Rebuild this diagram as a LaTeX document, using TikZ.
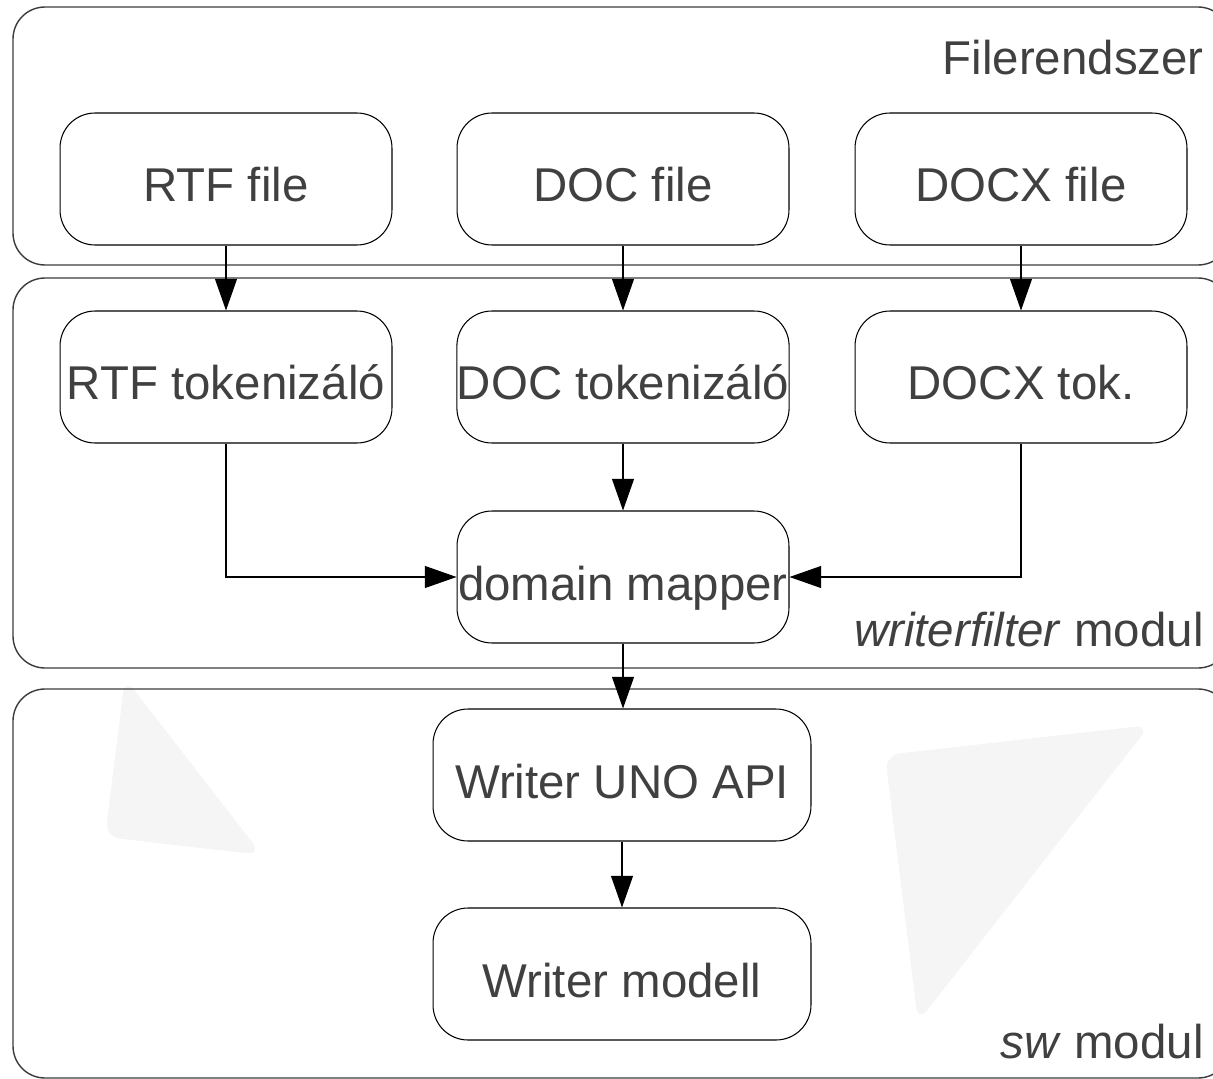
\documentclass[tikz,border=0pt]{standalone}
\usepackage{fontspec}
\setmainfont{Liberation Sans}
\usetikzlibrary{arrows.meta}
\definecolor{txtgray}{RGB}{64,64,64}
\definecolor{linegray}{RGB}{60,60,60}
\definecolor{bgtri}{RGB}{245,245,245}

\begin{document}
\begin{tikzpicture}[x=0.02cm,y=-0.02cm,
		box/.style={draw,rounded corners=0.7cm,minimum width=6.64cm,minimum height=2.64cm,
			inner sep=0pt,text height=0.92cm,text depth=0cm,text=txtgray,
			font=\fontsize{27}{32}\selectfont,line width=0.6pt},
		group/.style={draw=linegray,rounded corners=0.64cm,line width=0.8pt},
		modlabel/.style={anchor=base east,inner sep=0pt,text=txtgray,font=\fontsize{27}{32}\selectfont},
		flow/.style={-{Triangle[length=18pt,width=12.5pt]},line width=0.6pt}]
		\useasboundingbox (0,0) rectangle (1213,1078);
		\clip (0,0) rectangle (1213,1078);
		% faint background shapes
		\fill[bgtri,rounded corners=0.3cm] (125,678) -- (262,855) -- (105,837) -- cycle;
		\fill[bgtri,rounded corners=0.3cm] (885,755) -- (1150,725) -- (918,1022) -- cycle;
		% modules
		\draw[group] (13,7) rectangle (1230,265);
		\draw[group] (13,278) rectangle (1230,668);
		\draw[group] (13,689) rectangle (1230,1078);
		\node[modlabel] (fs) at (1204,74) {Filerendszer};
		\node[modlabel] (wf) at (1204,646) {\textit{writerfilter} modul};
		\node[modlabel] (sw) at (1204,1058) {\textit{sw} modul};
		% files
		\node[box] (rtf) at (226,179) {RTF file};
		\node[box] (doc) at (623,179) {DOC file};
		\node[box] (docx) at (1021,179) {DOCX file};
		% tokenizers
		\node[box] (rtftok) at (226,377) {RTF tokenizáló};
		\node[box] (doctok) at (623,377) {DOC tokenizáló};
		\node[box] (docxtok) at (1021,377) {DOCX tok.};
		\node[box] (dm) at (623,577) {domain mapper};
		% writer
		\node[box,minimum width=7.56cm] (api) at (622,775) {Writer UNO API};
		\node[box,minimum width=7.56cm] (model) at (622,974) {Writer modell};
		% arrows
		\draw[flow] (rtf) -- (rtftok);
		\draw[flow] (doc) -- (doctok);
		\draw[flow] (docx) -- (docxtok);
		\draw[flow] (doctok) -- (dm);
		\draw[flow] (rtftok.south) |- (dm.west);
		\draw[flow] (docxtok.south) |- (dm.east);
		\draw[flow] (dm.south) -- (dm.south |- api.north);
		\draw[flow] (api) -- (model);
	\end{tikzpicture}
\end{document}
